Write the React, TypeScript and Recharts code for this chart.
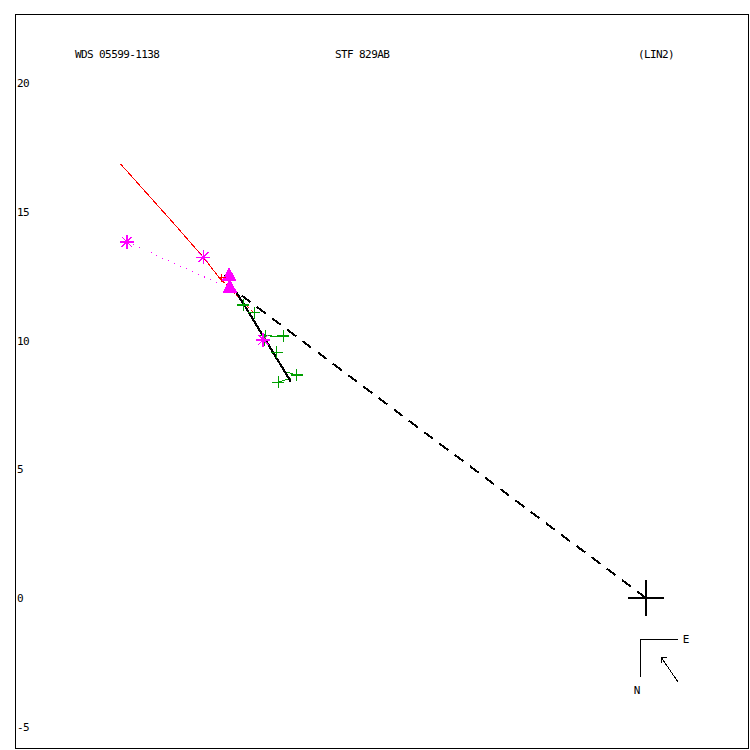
import { ComposedChart, Line, Scatter, XAxis, YAxis, ReferenceArea, ReferenceLine } from "recharts";

// plot range in arcsec, equal scale on both axes
const xDomain: [number, number] = [-24.505, 3.961];
const yDomain: [number, number] = [-5.825, 22.68];
const yTicks = [-5, 0, 5, 10, 15, 20];

const titles = ["WDS 05599-1138", "STF 829AB", "(LIN2)"];

// computed orbit (red) and its short dashed continuation
const orbitSolid = [
  { x: -20.4, y: 16.85 },
  { x: -18.29, y: 14.49 },
  { x: -17.19, y: 13.23 },
  { x: -16.58, y: 12.45 },
];
const orbitTail = [
  { x: -16.58, y: 12.45 },
  { x: -15.84, y: 11.69 },
  { x: -15.26, y: 11.11 },
];

// observed arc (black) and line of nodes (dashed)
const observedArc = [
  { x: -16.35, y: 12.54 },
  { x: -15.65, y: 11.46 },
  { x: -14.82, y: 10.09 },
  { x: -13.79, y: 8.4 },
];
const nodeLine = [
  { x: 0, y: 0 },
  { x: -16.16, y: 12.09 },
];
const firstObsTrail = [
  { x: -20.16, y: 13.83 },
  { x: -16.47, y: 12.16 },
];

const speckle = [
  { x: -20.16, y: 13.83 },
  { x: -17.19, y: 13.23 },
  { x: -14.87, y: 10.02 },
];
const interferometric = [
  { x: -16.19, y: 12.58 },
  { x: -16.16, y: 12.12 },
];
const micrometer = [
  { x: -15.64, y: 11.38 },
  { x: -15.21, y: 11.08 },
  { x: -14.77, y: 10.19 },
  { x: -14.09, y: 10.17 },
  { x: -14.83, y: 10.02 },
  { x: -14.34, y: 9.54 },
  { x: -13.57, y: 8.66 },
  { x: -14.28, y: 8.38 },
];
const rejected = [{ x: -16.47, y: 12.43 }];
const residuals = [
  { x1: -14.09, y1: 10.17, x2: -14.6, y2: 10.14 },
  { x1: -13.57, y1: 8.66, x2: -13.96, y2: 8.78 },
  { x1: -14.28, y1: 8.38, x2: -13.79, y2: 8.54 },
];
const primary = [{ x: 0, y: 0 }];
const compassAt = [{ x: -0.233, y: -1.592 }];

const GREEN = "#00a000";
const MAGENTA = "#ff00ff";
const FONT = "'DejaVu Sans Mono', monospace";

const plus = (size: number, color: string, width: number) => (p: any) => (
  <g stroke={color} strokeWidth={width}>
    <line x1={p.cx - size} y1={p.cy} x2={p.cx + size} y2={p.cy} />
    <line x1={p.cx} y1={p.cy - size} x2={p.cx} y2={p.cy + size} />
  </g>
);

const asterisk = (p: any) => (
  <g stroke={MAGENTA} strokeWidth={1.3}>
    <line x1={p.cx - 7} y1={p.cy} x2={p.cx + 7} y2={p.cy} />
    <line x1={p.cx} y1={p.cy - 7} x2={p.cx} y2={p.cy + 7} />
    <line x1={p.cx - 5} y1={p.cy - 5} x2={p.cx + 5} y2={p.cy + 5} />
    <line x1={p.cx - 5} y1={p.cy + 5} x2={p.cx + 5} y2={p.cy - 5} />
  </g>
);

const triangle = (p: any) => (
  <polygon
    points={`${p.cx},${p.cy - 7} ${p.cx - 7.5},${p.cy + 7} ${p.cx + 7.5},${p.cy + 7}`}
    fill={MAGENTA}
  />
);

const compass = (p: any) => (
  <g stroke="#000" strokeWidth={1} fill="none">
    <polyline points={`${p.cx + 38},${p.cy} ${p.cx},${p.cy} ${p.cx},${p.cy + 38}`} />
    <line x1={p.cx + 38} y1={p.cy + 43} x2={p.cx + 21} y2={p.cy + 18} />
    <line x1={p.cx + 21} y1={p.cy + 18} x2={p.cx + 27} y2={p.cy + 19} />
    <line x1={p.cx + 21} y1={p.cy + 18} x2={p.cx + 21} y2={p.cy + 24} />
    <text x={p.cx + 46} y={p.cy + 4} stroke="none" fill="#000" fontSize={11} fontFamily={FONT} textAnchor="middle">
      E
    </text>
    <text x={p.cx - 3} y={p.cy + 55} stroke="none" fill="#000" fontSize={11} fontFamily={FONT} textAnchor="middle">
      N
    </text>
  </g>
);

const YTick = (p: any) => (
  <text x={17} y={p.y + 4} fontSize={11} letterSpacing={-0.6} fontFamily={FONT} fill="#000">
    {p.payload.value}
  </text>
);

const titleX = [75, 335, 638];

export default function App() {
  return (
    <div style={{ position: "absolute", left: 0, top: 0, width: 750, height: 750, background: "#fff", shapeRendering: "crispEdges" }}>
      <ComposedChart width={750} height={750} margin={{ top: 14, left: 15, right: 2, bottom: 2 }}>
        <XAxis type="number" dataKey="x" domain={xDomain} allowDataOverflow hide />
        <YAxis
          type="number"
          dataKey="y"
          domain={yDomain}
          allowDataOverflow
          ticks={yTicks}
          mirror
          axisLine={false}
          tickLine={false}
          tick={YTick}
        />
        <ReferenceArea x1={xDomain[0]} x2={xDomain[1]} y1={yDomain[0]} y2={yDomain[1]} fill="none" stroke="#000" fillOpacity={0} />
        <Line data={orbitSolid} dataKey="y" stroke="#ff0000" strokeWidth={1} dot={false} isAnimationActive={false} />
        <Line data={orbitTail} dataKey="y" stroke="#ff0000" strokeWidth={1} strokeDasharray="3 2" dot={false} isAnimationActive={false} />
        <Line data={firstObsTrail} dataKey="y" stroke={MAGENTA} strokeWidth={1} strokeDasharray="1 5.5" dot={false} isAnimationActive={false} />
        <Line data={nodeLine} dataKey="y" stroke="#000" strokeWidth={2} strokeDasharray="11 8" dot={false} isAnimationActive={false} />
        {residuals.map((r, i) => (
          <ReferenceLine key={i} segment={[{ x: r.x1, y: r.y1 }, { x: r.x2, y: r.y2 }]} stroke={GREEN} strokeWidth={1} />
        ))}
        <Scatter data={interferometric} dataKey="y" shape={triangle} isAnimationActive={false} />
        <Scatter data={rejected} dataKey="y" shape={plus(4, "#ff0000", 1)} isAnimationActive={false} />
        <Scatter data={micrometer} dataKey="y" shape={plus(6, GREEN, 1.3)} isAnimationActive={false} />
        <Line data={observedArc} dataKey="y" stroke="#000" strokeWidth={2.2} dot={false} isAnimationActive={false} />
        <Scatter data={speckle} dataKey="y" shape={asterisk} isAnimationActive={false} />
        <Scatter data={primary} dataKey="y" shape={plus(18, "#000", 2)} isAnimationActive={false} />
        <Scatter data={compassAt} dataKey="y" shape={compass} isAnimationActive={false} />
      </ComposedChart>
      {titles.map((t, i) => (
        <div
          key={t}
          style={{
            position: "absolute",
            left: titleX[i],
            top: 48,
            fontFamily: FONT,
            fontSize: 11,
            letterSpacing: -0.6,
            lineHeight: "13px",
            whiteSpace: "pre",
            color: "#000",
          }}
        >
          {t}
        </div>
      ))}
    </div>
  );
}
